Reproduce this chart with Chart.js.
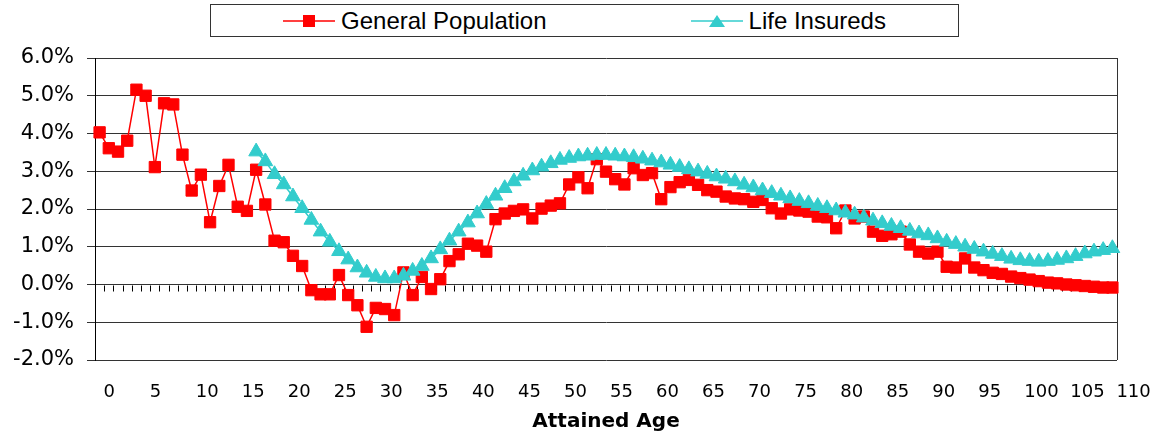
<!DOCTYPE html>
<html>
<head>
<meta charset="utf-8">
<title>General Population vs Life Insureds</title>
<script src="https://cdn.jsdelivr.net/npm/chart.js@4.4.1/dist/chart.umd.min.js"></script>
<style>
  html, body { margin: 0; padding: 0; background: #fff; }
  #wrap { position: relative; width: 1161px; height: 437px; }
  #chart { position: absolute; left: 0; top: 0; }
  .legend {
    position: absolute; left: 210px; top: 4px; width: 749px; height: 33px;
    box-sizing: border-box; border: 1px solid #333; background: #fff;
    display: flex; justify-content: space-around; align-items: center;
    font: 24px "Liberation Sans", Arial, sans-serif; color: #000;
  }
  .legend-item { display: flex; align-items: center; white-space: nowrap; }
  .legend-item svg { margin-right: 6px; }
</style>
</head>
<body>
<div id="wrap">
  <canvas id="chart" width="1161" height="437"></canvas>
  <div class="legend" id="legend"></div>
</div>
<script>
'use strict';

/* ========================================================
   Data (percent, by attained age 0..110)
   ======================================================== */
const ages = Array.from({ length: 111 }, (_, i) => i);
const ageTickLabels = ['0', '5', '10', '15', '20', '25', '30', '35', '40', '45', '50', '55',
  '60', '65', '70', '75', '80', '85', '90', '95', '100', '105', '110'];
const yTicks = [-2, -1, 0, 1, 2, 3, 4, 5, 6];

const generalPopulation = [
  4.03, 3.61, 3.52, 3.81, 5.16, 5.00, 3.11, 4.80, 4.77, 3.44,   // 0-9
  2.49, 2.91, 1.65, 2.61, 3.17, 2.06, 1.95, 3.04, 2.12, 1.16,   // 10-19
  1.12, 0.76, 0.49, -0.15, -0.26, -0.26, 0.25, -0.28, -0.55, -1.12, // 20-29
  -0.62, -0.65, -0.81, 0.32, -0.28, 0.20, -0.12, 0.14, 0.62, 0.80, // 30-39
  1.08, 1.03, 0.87, 1.73, 1.88, 1.95, 1.99, 1.75, 2.01, 2.09,   // 40-49
  2.15, 2.65, 2.84, 2.55, 3.32, 2.99, 2.79, 2.65, 3.08, 2.90,   // 50-59
  2.95, 2.26, 2.58, 2.71, 2.77, 2.64, 2.50, 2.46, 2.33, 2.28,   // 60-69
  2.26, 2.19, 2.24, 2.02, 1.88, 1.99, 1.96, 1.93, 1.80, 1.78,   // 70-79
  1.49, 1.96, 1.75, 1.80, 1.40, 1.29, 1.33, 1.40, 1.06, 0.87,   // 80-89
  0.82, 0.87, 0.47, 0.45, 0.69, 0.45, 0.38, 0.31, 0.28, 0.21,   // 90-99
  0.17, 0.13, 0.09, 0.05, 0.03, 0.00, -0.02, -0.04, -0.06, -0.08, // 100-109
  -0.08                                                          // 110
];

const lifeInsureds = [
  null, null, null, null, null, null, null, null, null, null,   // 0-9
  null, null, null, null, null, null, null, 3.52, 3.26, 2.92,   // 10-19
  2.65, 2.33, 2.02, 1.71, 1.40, 1.13, 0.88, 0.66, 0.45, 0.31,   // 20-29
  0.20, 0.16, 0.16, 0.23, 0.36, 0.49, 0.69, 0.93, 1.16, 1.40,   // 30-39
  1.64, 1.88, 2.13, 2.35, 2.55, 2.73, 2.88, 3.02, 3.12, 3.21,   // 40-49
  3.30, 3.35, 3.39, 3.41, 3.43, 3.43, 3.41, 3.39, 3.37, 3.33,   // 50-59
  3.28, 3.23, 3.17, 3.11, 3.05, 2.99, 2.93, 2.86, 2.80, 2.73,   // 60-69
  2.64, 2.57, 2.49, 2.42, 2.35, 2.28, 2.21, 2.15, 2.08, 2.02,   // 70-79
  1.96, 1.90, 1.85, 1.77, 1.69, 1.62, 1.55, 1.49, 1.42, 1.35,   // 80-89
  1.30, 1.22, 1.13, 1.07, 1.00, 0.94, 0.87, 0.81, 0.75, 0.68,   // 90-99
  0.64, 0.62, 0.60, 0.62, 0.65, 0.69, 0.75, 0.82, 0.87, 0.91,   // 100-109
  0.96                                                           // 110
];

const series = [
  { name: 'General Population', data: generalPopulation, color: '#FF0000', marker: 'rect', radius: 8, order: 1 },
  { name: 'Life Insureds', data: lifeInsureds, color: '#33CCCC', marker: 'triangle', radius: 8.5, order: 0 }
];

/* ========================================================
   Legend (HTML, Excel-style boxed)
   ======================================================== */
(function buildLegend() {
  const box = document.getElementById('legend');
  const NS = 'http://www.w3.org/2000/svg';
  series.forEach(s => {
    const item = document.createElement('div');
    item.className = 'legend-item';
    const svg = document.createElementNS(NS, 'svg');
    svg.setAttribute('width', '52');
    svg.setAttribute('height', '16');
    const line = document.createElementNS(NS, 'line');
    line.setAttribute('x1', '0'); line.setAttribute('x2', '52');
    line.setAttribute('y1', '8'); line.setAttribute('y2', '8');
    line.setAttribute('stroke', s.color); line.setAttribute('stroke-width', '1.5');
    svg.appendChild(line);
    let mark;
    if (s.marker === 'rect') {
      mark = document.createElementNS(NS, 'rect');
      mark.setAttribute('x', '20'); mark.setAttribute('y', '2');
      mark.setAttribute('width', '12'); mark.setAttribute('height', '12');
    } else {
      mark = document.createElementNS(NS, 'polygon');
      mark.setAttribute('points', '26,2 34,14 18,14');
    }
    mark.setAttribute('fill', s.color);
    svg.appendChild(mark);
    const label = document.createElement('span');
    label.textContent = s.name;
    item.appendChild(svg);
    item.appendChild(label);
    box.appendChild(item);
  });
})();

/* ========================================================
   Small plugins: zero-line tick marks + right frame
   ======================================================== */
const zeroLineTicks = {
  id: 'zeroLineTicks',
  beforeDatasetsDraw(chart) {
    const { ctx, scales: { x, y } } = chart;
    const y0 = Math.round(y.getPixelForValue(0)) + 0.5;
    ctx.save();
    ctx.strokeStyle = '#000';
    ctx.lineWidth = 1;
    ctx.beginPath();
    for (let i = 0; i < ages.length - 1; i++) {
      const bx = Math.round((x.getPixelForValue(i) + x.getPixelForValue(i + 1)) / 2) + 0.5;
      ctx.moveTo(bx, y0);
      ctx.lineTo(bx, y0 + 6);
    }
    ctx.stroke();
    ctx.restore();
  }
};

const plotFrame = {
  id: 'plotFrame',
  beforeDatasetsDraw(chart) {
    const { ctx, chartArea: a } = chart;
    ctx.save();
    ctx.strokeStyle = '#333';
    ctx.lineWidth = 1;
    ctx.beginPath();
    ctx.moveTo(Math.round(a.right) + 0.5, a.top);
    ctx.lineTo(Math.round(a.right) + 0.5, a.bottom);
    ctx.stroke();
    ctx.restore();
  }
};

/* ========================================================
   Chart
   ======================================================== */
new Chart(document.getElementById('chart'), {
  type: 'line',
  data: {
    labels: ages,
    datasets: series.map(s => ({
      label: s.name,
      data: s.data,
      borderColor: s.color,
      backgroundColor: s.color,
      borderWidth: 1.5,
      pointStyle: s.marker,
      pointRadius: s.radius,
      pointBorderWidth: 1,
      pointBackgroundColor: s.color,
      pointBorderColor: s.color,
      tension: 0,
      spanGaps: false,
      order: s.order
    }))
  },
  options: {
    responsive: false,
    devicePixelRatio: 1,
    animation: false,
    layout: { padding: { top: 58, right: 44, left: 0, bottom: 0 } },
    plugins: { legend: { display: false }, tooltip: { enabled: false } },
    scales: {
      x: {
        type: 'category',
        offset: true,
        grid: { display: false, drawTicks: false },
        border: { display: false },
        ticks: {
          autoSkip: false,
          maxRotation: 0,
          minRotation: 0,
          align: 'start',
          labelOffset: 4,
          padding: 22,
          color: '#000',
          font: { family: '"DejaVu Sans", sans-serif', size: 18 },
          callback(value) {
            const lbl = String(this.getLabelForValue(value));
            return ageTickLabels.includes(lbl) ? lbl : '';
          }
        },
        title: {
          display: true,
          text: 'Attained Age',
          color: '#000',
          font: { family: '"DejaVu Sans", sans-serif', size: 20, weight: 'bold' },
          padding: { top: 0, bottom: 3 }
        },
        afterFit(scale) {
          scale.height = 77;
          scale.paddingLeft = 0;
          scale.paddingRight = 0;
        }
      },
      y: {
        min: yTicks[0],
        max: yTicks[yTicks.length - 1],
        grid: { color: '#333', lineWidth: 1, tickLength: 8, drawTicks: true },
        border: { display: true, color: '#000', width: 1 },
        ticks: {
          stepSize: 1,
          padding: 13,
          color: '#000',
          font: { family: '"DejaVu Sans", sans-serif', size: 21 },
          callback: v => v.toFixed(1) + '%'
        },
        afterFit(scale) { scale.width = 95; }
      }
    }
  },
  plugins: [zeroLineTicks, plotFrame]
});
</script>
</body>
</html>
